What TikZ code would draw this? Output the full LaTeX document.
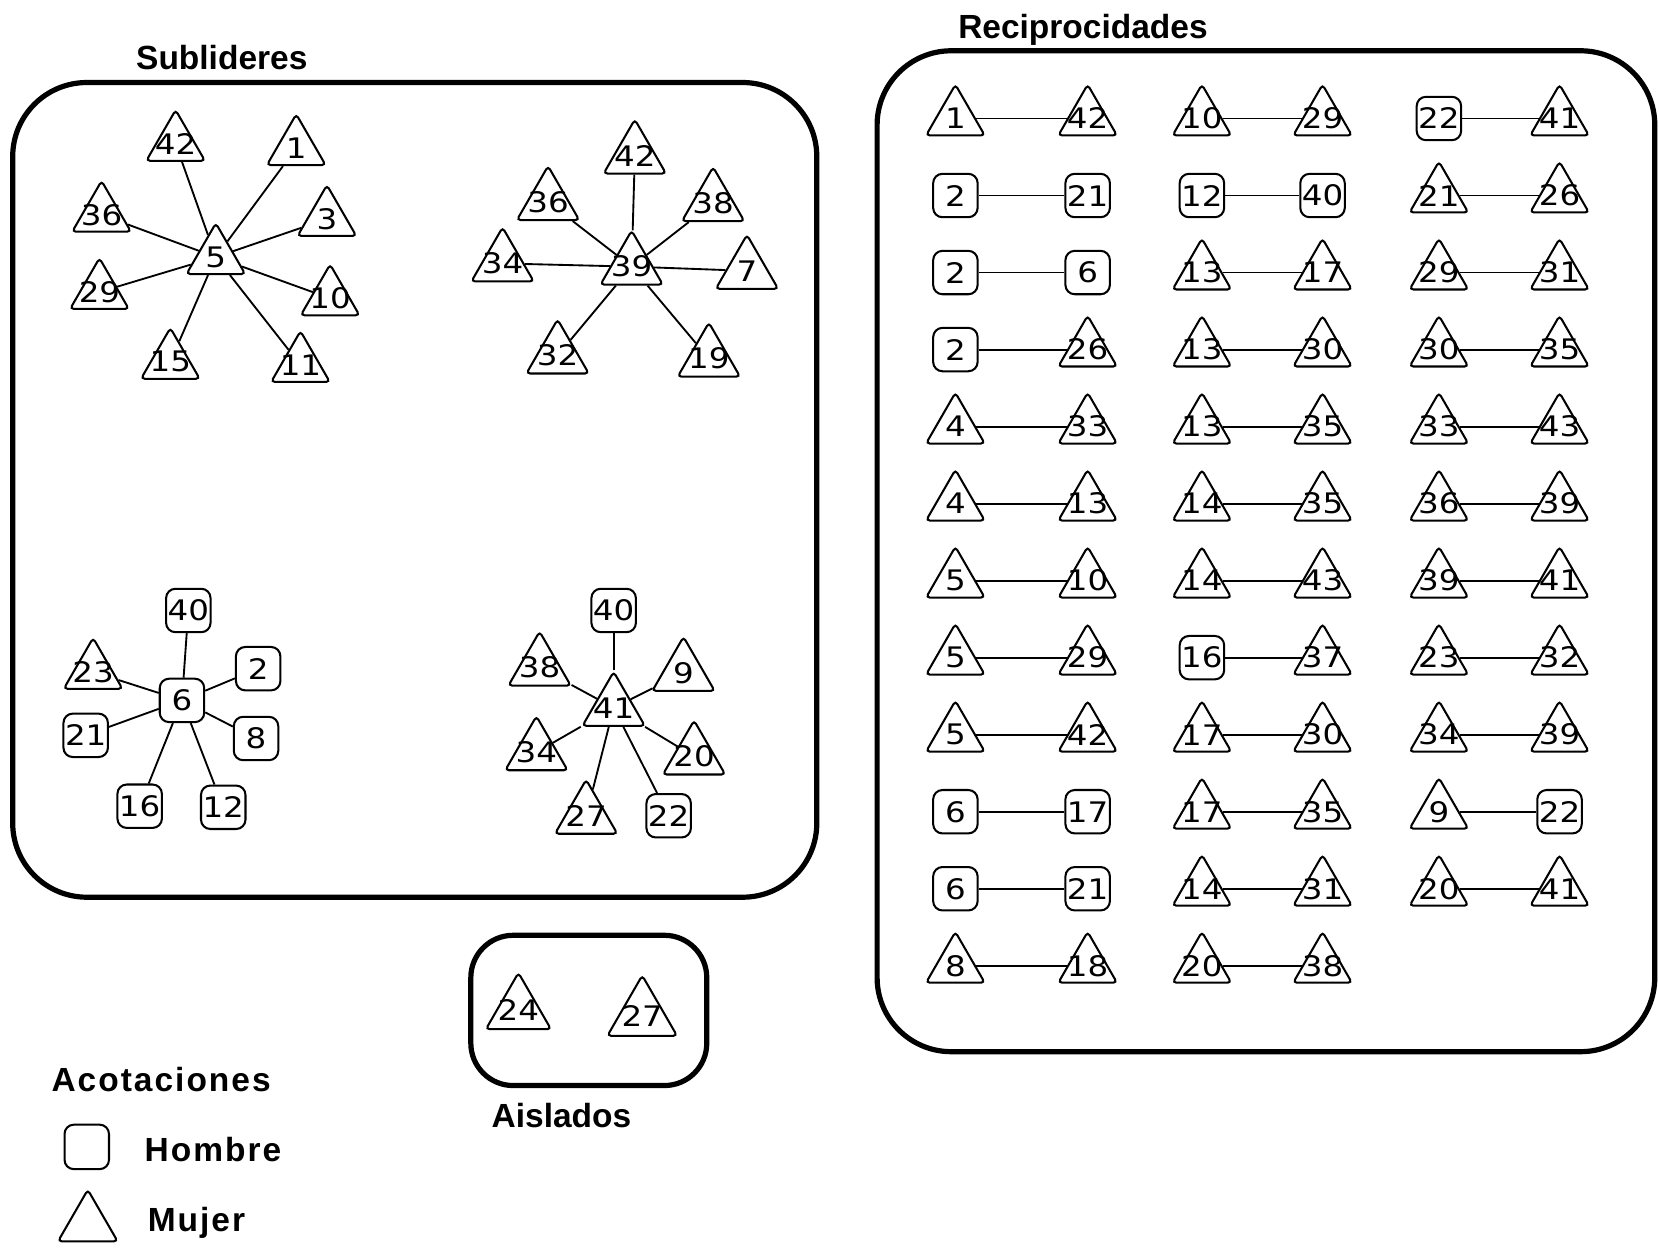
\documentclass[tikz,border=0pt]{standalone}
\usepackage{fontspec}
\usetikzlibrary{shapes.geometric}
\newfontfamily\numfont[FakeStretch=1.15]{DejaVu Sans}
\newfontfamily\titfont{Liberation Sans}

\begin{document}
\begin{tikzpicture}[x=0.01cm,y=-0.01cm,
    font=\numfont\fontsize{7.6}{8}\selectfont,
    figura/.style={draw,line width=0.55pt,inner sep=0pt},
    triangulo/.style={figura,regular polygon,regular polygon sides=3,minimum size=0.64cm,rounded corners=1pt},
    mujer/.style={triangulo,label=center:#1},
    mujerg/.style={mujer=#1,minimum size=0.68cm},
    hombre/.style={figura,rectangle,rounded corners=2.5pt,minimum width=0.42cm,minimum height=0.41cm,label=center:#1},
    enlace/.style={line width=0.5pt},
    caja/.style={line width=1.4pt,rounded corners=0.7cm},
    titulo/.style={font=\titfont\bfseries\fontsize{9}{10}\selectfont,inner sep=0pt,anchor=base west},
    leyenda/.style={titulo,font=\titfont\bfseries\fontsize{9}{10}\selectfont\addfontfeature{LetterSpace=6}}]

    \useasboundingbox (0,0) rectangle (1568,1179);

    \node[titulo] (tsub) at (128,66) {Sublideres};
    \node[titulo] (trec) at (905,36) {Reciprocidades};
    \draw[caja] (12,78) rectangle (772,848);
    \draw[caja] (829,48) rectangle (1564,994);
    \draw[caja,rounded corners=0.4cm] (445,884) rectangle (668,1026);

    % sublideres 5
    \node[mujer=5] (a5) at (204,243) {};
    \node[mujer=42] (a42) at (166,136) {};
    \node[mujer=1] (a1) at (280,140) {};
    \node[mujer=36] (a36) at (96,203) {};
    \node[mujer=3] (a3) at (309,207) {};
    \node[mujer=29] (a29) at (94,276) {};
    \node[mujer=10] (a10) at (312,282) {};
    \node[mujer=15] (a15) at (161,342) {};
    \node[mujer=11] (a11) at (284,345) {};
    \path[enlace] (a5) edge (a42) edge (a1) edge (a36) edge (a3)
        edge (a29) edge (a10) edge (a15) edge (a11);

    % sublideres 39
    \node[mujerg=39] (b39) at (597,252) {};
    \node[mujerg=42] (b42) at (600,147) {};
    \node[mujerg=36] (b36) at (518,191) {};
    \node[mujerg=38] (b38) at (674,192) {};
    \node[mujerg=34] (b34) at (475,249) {};
    \node[mujerg=7] (b7) at (706,256) {};
    \node[mujerg=32] (b32) at (527,336) {};
    \node[mujerg=19] (b19) at (670,339) {};
    \path[enlace] (b39) edge (b42) edge (b36) edge (b38) edge (b34)
        edge (b7) edge (b32) edge (b19);

    % sublideres 6
    \node[hombre=6] (c6) at (172,662) {};
    \node[hombre=40] (c40) at (178,577) {};
    \node[mujer=23] (c23) at (88,635) {};
    \node[hombre=2] (c2) at (244,632) {};
    \node[hombre=21] (c21) at (81,695) {};
    \node[hombre=8] (c8) at (242,698) {};
    \node[hombre=16] (c16) at (132,762) {};
    \node[hombre=12] (c12) at (211,763) {};
    \path[enlace] (c6) edge (c40) edge (c23) edge (c2) edge (c21)
        edge (c8) edge (c16) edge (c12);

    % sublideres 41
    \node[mujerg=41] (d41) at (580,669) {};
    \node[hombre=40] (d40) at (580,577) {};
    \node[mujerg=38] (d38) at (510,631) {};
    \node[mujerg=9] (d9) at (646,636) {};
    \node[mujerg=34] (d34) at (507,711) {};
    \node[mujerg=20] (d20) at (656,715) {};
    \node[mujerg=27] (d27) at (554,771) {};
    \node[hombre=22] (d22) at (632,771) {};
    \path[enlace] (d41) edge (d40) edge (d38) edge (d9) edge (d34)
        edge (d20) edge (d27) edge (d22);

    % reciprocidades
    \foreach \a/\sa/\b/\sb [count=\i] in {1/mujer/42/mujer, 2/hombre/21/hombre,
        2/hombre/6/hombre, 2/hombre/26/mujer, 4/mujer/33/mujer, 4/mujer/13/mujer,
        5/mujer/10/mujer, 5/mujer/29/mujer, 5/mujer/42/mujer, 6/hombre/17/hombre,
        6/hombre/21/hombre, 8/mujer/18/mujer}{
        \node[\sa=\a] (pa\i) at (903,{112+72.8*(\i-1)}) {};
        \node[\sb=\b] (pb\i) at (1028,{112+72.8*(\i-1)}) {};
        \draw[enlace] (pa\i) -- (pb\i);
    }
    \foreach \a/\sa/\b/\sb [count=\i] in {10/mujer/29/mujer, 12/hombre/40/hombre,
        13/mujer/17/mujer, 13/mujer/30/mujer, 13/mujer/35/mujer, 14/mujer/35/mujer,
        14/mujer/43/mujer, 16/hombre/37/mujer, 17/mujer/30/mujer, 17/mujer/35/mujer,
        14/mujer/31/mujer, 20/mujer/38/mujer}{
        \node[\sa=\a] (qa\i) at (1136,{112+72.8*(\i-1)}) {};
        \node[\sb=\b] (qb\i) at (1250,{112+72.8*(\i-1)}) {};
        \draw[enlace] (qa\i) -- (qb\i);
    }
    \foreach \a/\sa/\b/\sb [count=\i] in {22/hombre/41/mujer, 21/mujer/26/mujer,
        29/mujer/31/mujer, 30/mujer/35/mujer, 33/mujer/43/mujer, 36/mujer/39/mujer,
        39/mujer/41/mujer, 23/mujer/32/mujer, 34/mujer/39/mujer, 9/mujer/22/hombre,
        20/mujer/41/mujer}{
        \node[\sa=\a] (ra\i) at (1360,{112+72.8*(\i-1)}) {};
        \node[\sb=\b] (rb\i) at (1474,{112+72.8*(\i-1)}) {};
        \draw[enlace] (ra\i) -- (rb\i);
    }

    % aislados
    \node[mujerg=24,minimum size=0.71cm] (e24) at (490,955) {};
    \node[mujerg=27,minimum size=0.76cm] (e27) at (607,960) {};
    \node[titulo] (tais) at (464,1066) {Aislados};

    % acotaciones
    \node[leyenda] (tacot) at (48,1032) {Acotaciones};
    \node[hombre={},minimum height=0.42cm] (lh) at (82,1084) {};
    \node[leyenda] (thom) at (136,1098) {Hombre};
    \node[triangulo,minimum size=0.65cm] (lm) at (83,1157) {};
    \node[leyenda] (tmuj) at (139,1164) {Mujer};
\end{tikzpicture}
\end{document}
